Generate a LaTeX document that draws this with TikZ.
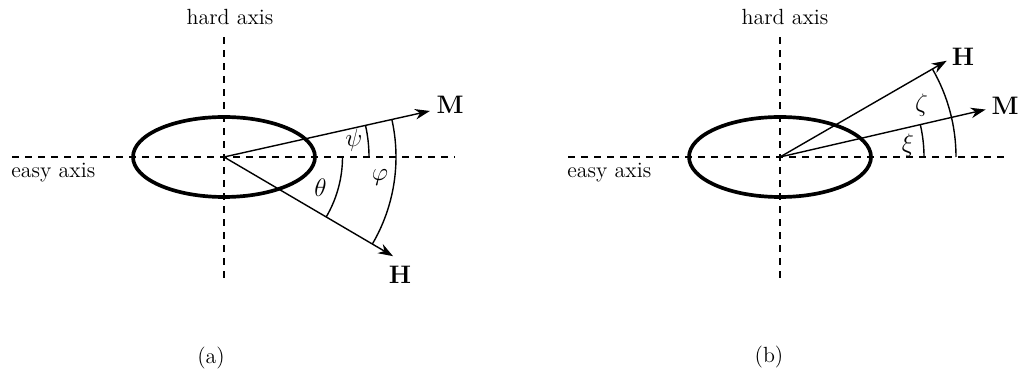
\documentclass[tikz,border=0pt]{standalone}
\usepackage{amsmath,amssymb,bm}
\usetikzlibrary{arrows.meta,positioning}

\tikzset{
  axisline/.style={line width=1pt, dash pattern=on 4pt off 3.4pt},
  body/.style={line width=2.1pt},
  vec/.style={-{Stealth[length=8.5pt,width=6pt]}, line width=0.8pt},
  anglearc/.style={line width=0.8pt},
  axislabel/.style={font=\fontsize{12.5}{15}\selectfont, inner sep=0pt},
  veclabel/.style={font=\fontsize{13.5}{16}\selectfont, inner sep=0pt},
  anglelabel/.style={font=\fontsize{13.5}{16}\selectfont, inner sep=0pt},
}

\begin{document}
\begin{tikzpicture}
\useasboundingbox (0,0) rectangle (20.36,7.48);

% (a) field below the easy axis
\coordinate (O1) at (4.48,4.34);
\coordinate (ea1w) at (0.24,4.34);
\coordinate (ea1e) at (9.10,4.34);
\coordinate (ha1n) at (4.48,6.82);
\coordinate (ha1s) at (4.48,1.92);
\coordinate (M1) at ([shift={(12.6:4.22)}]O1);
\coordinate (H1) at ([shift={(-30.4:3.92)}]O1);

\draw[axisline] (ea1w) -- (ea1e);
\draw[axisline] (ha1s) -- (ha1n);
\draw[body] (O1) ellipse[x radius=1.82, y radius=0.8];
\draw[vec] (O1) -- (M1);
\draw[vec] (O1) -- (H1);

\draw[anglearc] ([shift={(0:2.9)}]O1) arc[start angle=0, end angle=12.6, radius=2.9];
\draw[anglearc] ([shift={(-30.4:2.37)}]O1) arc[start angle=-30.4, end angle=0, radius=2.37];
\draw[anglearc] ([shift={(-30.4:3.44)}]O1) arc[start angle=-30.4, end angle=12.6, radius=3.44];

\node[axislabel, anchor=south] (hard1) at (4.60,6.98) {hard axis};
\node[axislabel, anchor=west] (easy1) at (0.22,4.02) {easy axis};
\node[veclabel] (Mlab1) at ([shift={(4.52,1.04)}]O1) {$\mathbf{M}$};
\node[veclabel] (Hlab1) at ([shift={(3.52,-2.36)}]O1) {$\mathbf{H}$};
\node[anglelabel] (psi) at ([shift={(2.6,0.34)}]O1) {$\psi$};
\node[anglelabel] (theta) at ([shift={(1.93,-0.62)}]O1) {$\theta$};
\node[anglelabel] (phi) at ([shift={(3.12,-0.42)}]O1) {$\varphi$};
\node[axislabel] (capa) at (4.22,0.32) {(a)};

% (b) field above the magnetisation
\coordinate (O2) at (15.60,4.34);
\coordinate (ea2w) at (11.36,4.34);
\coordinate (ea2e) at (20.16,4.34);
\coordinate (ha2n) at (15.60,6.82);
\coordinate (ha2s) at (15.60,1.92);
\coordinate (M2) at ([shift={(13:4.22)}]O2);
\coordinate (H2) at ([shift={(30:3.85)}]O2);

\draw[axisline] (ea2w) -- (ea2e);
\draw[axisline] (ha2s) -- (ha2n);
\draw[body] (O2) ellipse[x radius=1.82, y radius=0.8];
\draw[vec] (O2) -- (M2);
\draw[vec] (O2) -- (H2);

\draw[anglearc] ([shift={(0:2.88)}]O2) arc[start angle=0, end angle=13, radius=2.88];
\draw[anglearc] ([shift={(0:3.52)}]O2) arc[start angle=0, end angle=30, radius=3.52];

\node[axislabel, anchor=south] (hard2) at (15.70,6.98) {hard axis};
\node[axislabel, anchor=west] (easy2) at (11.34,4.02) {easy axis};
\node[veclabel] (Mlab2) at ([shift={(4.5,1.02)}]O2) {$\mathbf{M}$};
\node[veclabel] (Hlab2) at ([shift={(3.66,2.0)}]O2) {$\mathbf{H}$};
\node[anglelabel] (zeta) at ([shift={(2.83,1.04)}]O2) {$\zeta$};
\node[anglelabel] (xi) at ([shift={(2.56,0.24)}]O2) {$\xi$};
\node[axislabel] (capb) at (15.38,0.34) {(b)};
\end{tikzpicture}
\end{document}
